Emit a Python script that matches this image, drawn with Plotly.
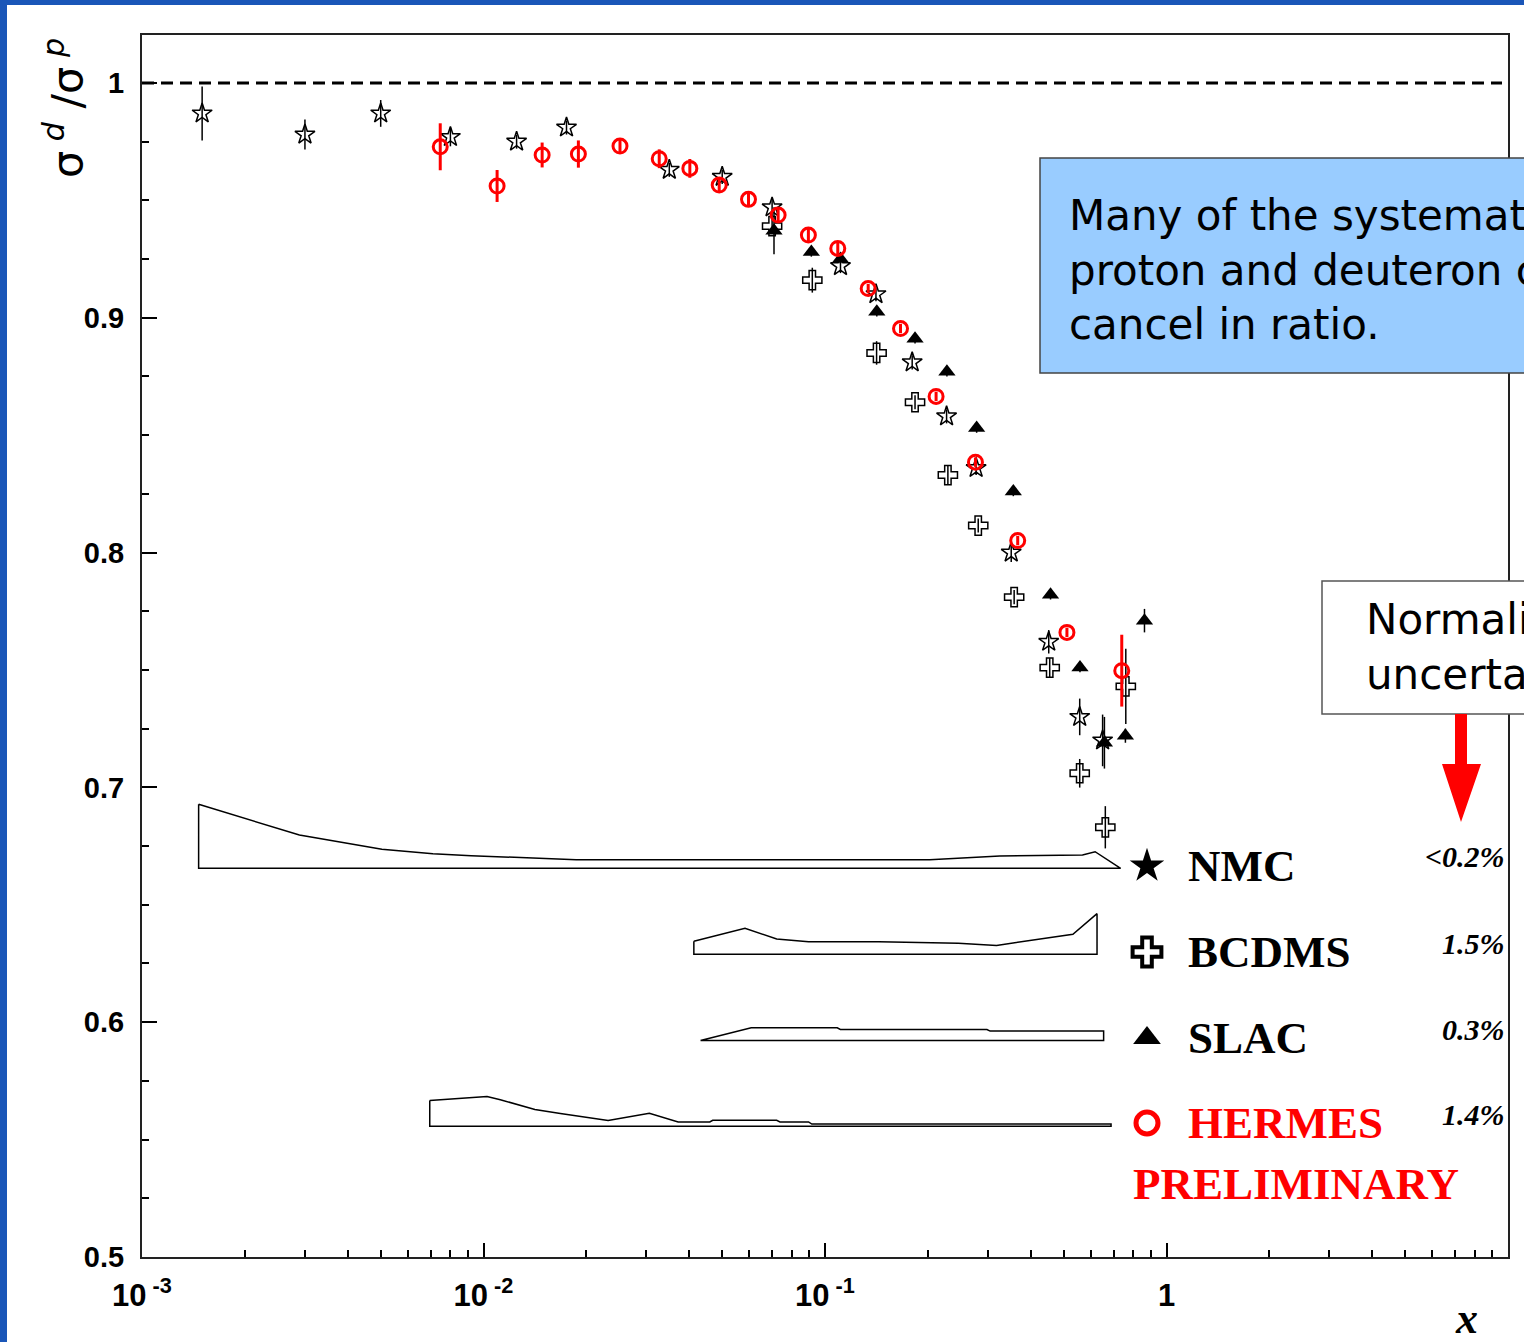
import plotly.graph_objects as go

# ---------------- data ----------------
nmc_x = [0.0015, 0.0030, 0.0050, 0.0080, 0.0125, 0.0175, 0.035, 0.050, 0.070,
         0.111, 0.141, 0.180, 0.227, 0.277, 0.351, 0.452, 0.557, 0.650]
nmc_y = [0.987, 0.978, 0.987, 0.977, 0.975, 0.981, 0.963, 0.960, 0.947,
         0.922, 0.910, 0.881, 0.858, 0.836, 0.800, 0.762, 0.730, 0.720]
nmc_err = [0.0115, 0.0064, 0.0057, 0.004, 0.003, 0.003, 0.003, 0.003, 0.004,
           0.003, 0.003, 0.003, 0.003, 0.003, 0.004, 0.005, 0.0078, 0.011]

bcdms_x = [0.070, 0.0918, 0.1416, 0.1835, 0.229, 0.281, 0.358, 0.455, 0.557, 0.662, 0.760]
bcdms_y = [0.939, 0.916, 0.885, 0.864, 0.833, 0.8115, 0.781, 0.751, 0.706, 0.683, 0.743]
bcdms_err = [0.003, 0.0053, 0.005, 0.003, 0.004, 0.003, 0.003, 0.004, 0.0061, 0.009, 0.016]

slac_x = [0.0709, 0.0912, 0.111, 0.1418, 0.1835, 0.2275, 0.278, 0.356, 0.4575,
          0.558, 0.658, 0.758, 0.862]
slac_y = [0.937, 0.928, 0.925, 0.9025, 0.891, 0.877, 0.853, 0.826, 0.782,
          0.751, 0.719, 0.722, 0.771]
slac_err = [0.010, 0.002, 0.002, 0.002, 0.002, 0.002, 0.002, 0.002, 0.002,
            0.002, 0.011, 0.003, 0.005]

hermes_x = [0.00747, 0.01096, 0.01485, 0.01896, 0.0251, 0.0327, 0.0402, 0.049, 0.0597,
            0.0729, 0.0894, 0.109, 0.1338, 0.1664, 0.2115, 0.2758, 0.3667, 0.511, 0.7396]
hermes_y = [0.9728, 0.9561, 0.9693, 0.9697, 0.9731, 0.9677, 0.9636, 0.9565, 0.9504,
            0.9437, 0.9352, 0.9295, 0.9124, 0.8954, 0.8665, 0.8385, 0.8051, 0.766, 0.7497]
hermes_err = [0.0100, 0.0068, 0.0053, 0.0058, 0.003, 0.004, 0.004, 0.003, 0.003,
              0.003, 0.003, 0.003, 0.002, 0.002, 0.002, 0.002, 0.002, 0.002, 0.0153]

# systematic-uncertainty bands (top edge, then bottom level)
nmc_band_x = [0.001465, 0.00289, 0.00504, 0.00711, 0.0092, 0.0127, 0.0187, 0.2025, 0.325, 0.5676, 0.618, 0.734]
nmc_band_y = [0.6928, 0.6797, 0.6736, 0.6717, 0.6709, 0.6700, 0.6692, 0.6692, 0.6708, 0.6712, 0.6726, 0.6655]
nmc_band_base = 0.6655

bcdms_band_x = [0.0413, 0.0583, 0.0722, 0.0895, 0.1437, 0.2458, 0.3179, 0.3776, 0.532, 0.626]
bcdms_band_y = [0.6345, 0.6400, 0.6354, 0.6343, 0.6343, 0.6336, 0.6327, 0.6343, 0.6374, 0.6462]
bcdms_band_base = 0.6289

slac_band_x = [0.0432, 0.0608, 0.1086, 0.1109, 0.298, 0.3045, 0.6545]
slac_band_y = [0.5922, 0.5976, 0.5976, 0.5969, 0.5969, 0.5962, 0.5962]
slac_band_base = 0.5922

hermes_band_x = [0.00696, 0.0092, 0.01024, 0.0112, 0.01414, 0.01679, 0.02317, 0.0306,
                 0.03715, 0.046, 0.0469, 0.0722, 0.0738, 0.0895, 0.0915, 0.688]
hermes_band_y = [0.5666, 0.5677, 0.5683, 0.5670, 0.5628, 0.5611, 0.5581, 0.5612,
                 0.5575, 0.5575, 0.5582, 0.5582, 0.5575, 0.5575, 0.5566, 0.5566]
hermes_band_base = 0.5557

legend_names = ["NMC", "BCDMS", "SLAC", "HERMES"]
legend_norm = ["<0.2%", "1.5%", "0.3%", "1.4%"]

y_tickvals = [0.5, 0.6, 0.7, 0.8, 0.9, 1.0]
y_ticktext = ["0.5", "0.6", "0.7", "0.8", "0.9", "1"]
x_tickvals = [0.001, 0.01, 0.1, 1]
x_ticktext = ["10<sup> -3</sup>", "10<sup> -2</sup>", "10<sup> -1</sup>", "1"]

# ---------------- layout geometry ----------------
W, H = 1524, 1342
ML, MR, MT, MB = 142, 16, 35, 85
PW = W - ML - MR
PH = H - MT - MB
YMIN, YMAX = 0.5, 1.0204


def px(xp):
    return (xp - ML) / PW


def py(yp):
    return (H - MB - yp) / PH


def xdata(xp):
    return 10 ** (-3 + 4 * (xp - ML) / PW)


def ydata(yp):
    return YMIN + (YMAX - YMIN) * (H - MB - yp) / PH


fig = go.Figure()


def band(xs, ys, base):
    bx = list(xs) + [xs[-1], xs[0], xs[0]]
    by = list(ys) + [base, base, ys[0]]
    fig.add_trace(go.Scatter(x=bx, y=by, mode="lines",
                             line=dict(color="black", width=1.5),
                             hoverinfo="skip"))


band(nmc_band_x, nmc_band_y, nmc_band_base)
band(bcdms_band_x, bcdms_band_y, bcdms_band_base)
band(slac_band_x, slac_band_y, slac_band_base)
band(hermes_band_x, hermes_band_y, hermes_band_base)

fig.add_trace(go.Scatter(
    x=nmc_x, y=nmc_y, mode="markers",
    marker=dict(symbol="star-open", size=15, color="black", line=dict(width=1.5)),
    error_y=dict(type="data", array=nmc_err, width=0, thickness=1.5, color="black")))
fig.add_trace(go.Scatter(
    x=bcdms_x, y=bcdms_y, mode="markers",
    marker=dict(symbol="cross-open", size=16, color="black", line=dict(width=1.5)),
    error_y=dict(type="data", array=bcdms_err, width=0, thickness=1.5, color="black")))
fig.add_trace(go.Scatter(
    x=slac_x, y=slac_y, mode="markers",
    marker=dict(symbol="triangle-up", size=15, color="black"),
    error_y=dict(type="data", array=slac_err, width=0, thickness=1.5, color="black")))
fig.add_trace(go.Scatter(
    x=hermes_x, y=hermes_y, mode="markers",
    marker=dict(symbol="circle-open", size=14, color="#ff0000", line=dict(width=3)),
    error_y=dict(type="data", array=hermes_err, width=0, thickness=3, color="#ff0000")))

# legend symbols
leg_rows = [866, 952, 1038, 1123]
leg_syms = [dict(symbol="star", size=26, color="black"),
            dict(symbol="cross-open", size=24, color="black", line=dict(width=4)),
            dict(symbol="triangle-up", size=24, color="black"),
            dict(symbol="circle-open", size=22, color="#ff0000", line=dict(width=5))]
for r, m in zip(leg_rows, leg_syms):
    fig.add_trace(go.Scatter(x=[xdata(1147)], y=[ydata(r)], mode="markers",
                             marker=m, hoverinfo="skip"))

annotations = []
for name, norm, r in zip(legend_names, legend_norm, leg_rows):
    col = "#ff0000" if name == "HERMES" else "black"
    annotations.append(dict(x=px(1186), y=py(r), xref="paper", yref="paper",
                            xanchor="left", yanchor="middle", showarrow=False,
                            text="<b>%s</b>" % name,
                            font=dict(family="Liberation Serif", size=45, color=col)))
    annotations.append(dict(x=px(1507), y=py(r - 9), xref="paper", yref="paper",
                            xanchor="right", yanchor="middle", showarrow=False,
                            text="<b><i>%s</i></b>" % norm,
                            font=dict(family="Liberation Serif", size=30, color="black")))
annotations.append(dict(x=px(1131), y=py(1184), xref="paper", yref="paper",
                        xanchor="left", yanchor="middle", showarrow=False,
                        text="<b>PRELIMINARY</b>",
                        font=dict(family="Liberation Serif", size=45, color="#ff0000")))
# axis titles
annotations.append(dict(x=px(1466), y=py(1318), xref="paper", yref="paper",
                        xanchor="center", yanchor="middle", showarrow=False,
                        text="<b><i>x</i></b>",
                        font=dict(family="Liberation Serif", size=44, color="black")))
annotations.append(dict(x=px(64), y=py(108), xref="paper", yref="paper",
                        xanchor="center", yanchor="middle", showarrow=False, textangle=-90,
                        text="σ<sup> <i>d</i></sup> /σ<sup> <i>p</i></sup>",
                        font=dict(family="DejaVu Sans", size=43, color="black")))
# text boxes
annotations.append(dict(x=px(1067), y=py(270), xref="paper", yref="paper",
                        xanchor="left", yanchor="middle", showarrow=False, align="left",
                        text="Many of the systematic errors of the<br>proton and deuteron cross sections<br>cancel in ratio.",
                        font=dict(family="DejaVu Sans", size=42, color="black")))
annotations.append(dict(x=px(1364), y=py(647), xref="paper", yref="paper",
                        xanchor="left", yanchor="middle", showarrow=False, align="left",
                        text="Normalization<br>uncertainties",
                        font=dict(family="DejaVu Sans", size=42, color="black")))

shapes = [
    # slide border
    dict(type="rect", xref="paper", yref="paper", x0=px(0), x1=px(7), y0=py(H), y1=py(0),
         fillcolor="#1a56b8", line=dict(width=0), layer="above"),
    dict(type="rect", xref="paper", yref="paper", x0=px(0), x1=px(W), y0=py(5), y1=py(0),
         fillcolor="#1a56b8", line=dict(width=0), layer="above"),
    # dashed unity line
    dict(type="line", xref="paper", yref="y", x0=0, x1=px(1502), y0=1.0, y1=1.0,
         line=dict(color="black", width=3, dash="12px,7px")),
    # blue note box
    dict(type="rect", xref="paper", yref="paper", x0=px(1040), x1=px(W + 20), y0=py(373), y1=py(158),
         fillcolor="#99ccff", line=dict(color="#444444", width=1.5), layer="above"),
    # white note box
    dict(type="rect", xref="paper", yref="paper", x0=px(1322), x1=px(W + 20), y0=py(714), y1=py(581),
         fillcolor="white", line=dict(color="#555555", width=1.5), layer="above"),
    # red arrow
    dict(type="path", xref="paper", yref="paper", layer="above",
         path="M %f %f L %f %f L %f %f L %f %f L %f %f L %f %f L %f %f Z" % (
             px(1455), py(714), px(1467), py(714), px(1467), py(764), px(1481), py(764),
             px(1461), py(822), px(1442), py(764), px(1455), py(764)),
         fillcolor="#ff0000", line=dict(width=0)),
]

minor_x = [k * 10 ** e for e in range(-3, 1) for k in range(2, 10)]

fig.update_layout(
    width=W, height=H,
    margin=dict(l=ML, r=MR, t=MT, b=MB, pad=0),
    paper_bgcolor="white", plot_bgcolor="white",
    showlegend=False, hovermode=False,
    annotations=annotations, shapes=shapes,
    xaxis=dict(type="log", range=[-3, 1], showgrid=False, zeroline=False,
               showline=True, linecolor="#222222", linewidth=2, mirror=True,
               ticks="inside", ticklen=14, tickwidth=2, tickcolor="black",
               tickmode="array", tickvals=x_tickvals, ticktext=x_ticktext,
               ticklabelstandoff=10,
               tickfont=dict(family="Liberation Sans", size=31, color="black", weight="bold"),
               minor=dict(ticks="inside", ticklen=7, tickwidth=1.5, tickcolor="black",
                          tickmode="array", tickvals=minor_x, showgrid=False)),
    yaxis=dict(range=[YMIN, YMAX], showgrid=False, zeroline=False,
               showline=True, linecolor="#222222", linewidth=2, mirror=True,
               ticks="inside", ticklen=15, tickwidth=2, tickcolor="black",
               tickmode="array", tickvals=y_tickvals, ticktext=y_ticktext,
               ticklabelstandoff=10,
               tickfont=dict(family="Liberation Sans", size=29, color="black", weight="bold"),
               minor=dict(ticks="inside", ticklen=7, tickwidth=1.5, tickcolor="black",
                          tickmode="linear", tick0=0.5, dtick=0.025, showgrid=False)),
)

fig.write_html("out.html")
